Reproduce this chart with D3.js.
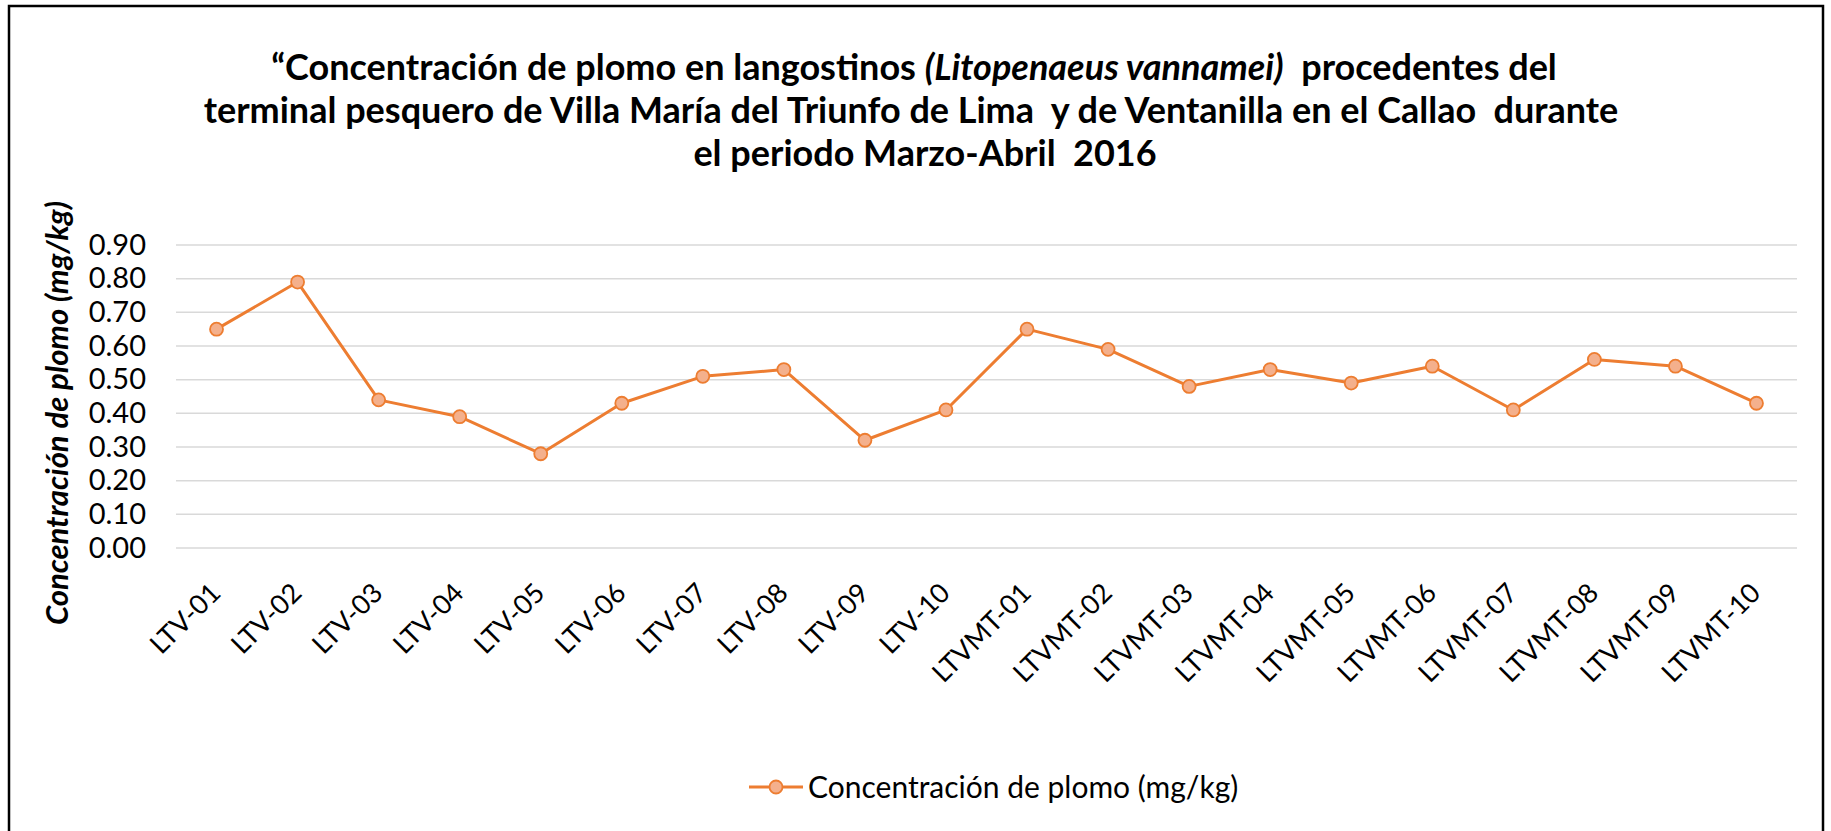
<!DOCTYPE html>
<html>
<head>
<meta charset="utf-8">
<script src="https://cdn.jsdelivr.net/npm/d3@7"></script>
<style>
  body { margin: 0; background: #fff; }
  svg { display: block; font-family: Lato, "Open Sans", sans-serif; }
</style>
</head>
<body>
<svg width="1831" height="831"></svg>
<script>
// data
var categories = ["LTV-01", "LTV-02", "LTV-03", "LTV-04", "LTV-05", "LTV-06", "LTV-07", "LTV-08", "LTV-09", "LTV-10",
    "LTVMT-01", "LTVMT-02", "LTVMT-03", "LTVMT-04", "LTVMT-05", "LTVMT-06", "LTVMT-07", "LTVMT-08", "LTVMT-09", "LTVMT-10"];
var plomo = [0.65, 0.79, 0.44, 0.39, 0.28, 0.43, 0.51, 0.53, 0.32, 0.41,
    0.65, 0.59, 0.48, 0.53, 0.49, 0.54, 0.41, 0.56, 0.54, 0.43];
var yTicks = [0, 0.1, 0.2, 0.3, 0.4, 0.5, 0.6, 0.7, 0.8, 0.9];
var seriesName = "Concentración de plomo (mg/kg)";
var yTitle = "Concentración de plomo (mg/kg)";

var margin = { top: 245, right: 34, bottom: 283, left: 176 };
var width = 1831 - margin.left - margin.right;
var height = 831 - margin.top - margin.bottom;

var svg = d3.select("svg");

// outer frame (bottom edge falls outside the picture)
svg.append("rect")
    .attr("x", 9).attr("y", 6)
    .attr("width", 1814).attr("height", 840)
    .attr("fill", "none")
    .attr("stroke", "#000")
    .attr("stroke-width", 2.5);

// title, 3 lines, species name in italics
var title = svg.append("text")
    .attr("text-anchor", "middle")
    .style("font-size", "36px")
    .style("font-weight", "700")
    .style("white-space", "pre")
    .attr("fill", "#000");
var l1 = title.append("tspan").attr("x", 914).attr("y", 80);
l1.append("tspan").text("“Concentración de plomo en langostinos ");
l1.append("tspan").style("font-style", "italic").text("(Litopenaeus vannamei)");
l1.append("tspan").text("  procedentes del");
title.append("tspan").attr("x", 911).attr("y", 123)
    .text("terminal pesquero de Villa María del Triunfo de Lima  y de Ventanilla en el Callao  durante");
title.append("tspan").attr("x", 925).attr("y", 166)
    .text("el periodo Marzo-Abril  2016");

var g = svg.append("g")
    .attr("transform", "translate(" + margin.left + "," + margin.top + ")");

var x = d3.scaleBand().domain(categories).range([0, width]);
var y = d3.scaleLinear().domain([0, 0.9]).range([height, 0]);

// gridlines
g.append("g")
    .selectAll("line")
    .data(yTicks)
    .enter().append("line")
    .attr("x1", 0).attr("x2", width)
    .attr("y1", function (d) { return y(d); })
    .attr("y2", function (d) { return y(d); })
    .attr("stroke", "#d9d9d9")
    .attr("stroke-width", 1.5);

// y axis labels
var yAxis = g.append("g")
    .call(d3.axisLeft(y).tickValues(yTicks).tickFormat(d3.format(".2f")).tickSize(0).tickPadding(30));
yAxis.select(".domain").remove();
yAxis.selectAll("text")
    .style("font-size", "29px")
    .style("font-family", "Lato, sans-serif")
    .attr("fill", "#000");

// x axis labels, rotated
var xAxis = g.append("g")
    .attr("transform", "translate(0," + height + ")")
    .call(d3.axisBottom(x).tickSize(0).tickPadding(0));
xAxis.select(".domain").remove();
xAxis.selectAll("text")
    .style("font-size", "27px")
    .style("font-family", "Lato, sans-serif")
    .attr("fill", "#000")
    .attr("text-anchor", "end")
    .attr("transform", "translate(-1,40) rotate(-45)")
    .attr("dy", "0.35em");

// y title
svg.append("text")
    .attr("transform", "translate(57,413) rotate(-90)")
    .attr("text-anchor", "middle")
    .attr("dy", "0.35em")
    .style("font-size", "31px")
    .style("font-weight", "700")
    .style("font-style", "italic")
    .text(yTitle);

// line + markers
var line = d3.line()
    .x(function (d, i) { return x(categories[i]) + x.bandwidth() / 2; })
    .y(function (d) { return y(d); });

g.append("path")
    .datum(plomo)
    .attr("fill", "none")
    .attr("stroke", "#ed7d31")
    .attr("stroke-width", 3)
    .attr("stroke-linejoin", "round")
    .attr("d", line);

g.selectAll(".dot")
    .data(plomo)
    .enter().append("circle")
    .attr("class", "dot")
    .attr("cx", function (d, i) { return x(categories[i]) + x.bandwidth() / 2; })
    .attr("cy", function (d) { return y(d); })
    .attr("r", 6.5)
    .attr("fill", "#f4b08c")
    .attr("stroke", "#ed7d31")
    .attr("stroke-width", 1.8);

// legend
var legend = svg.append("g").attr("transform", "translate(749,787)");
legend.append("line")
    .attr("x1", 0).attr("x2", 54)
    .attr("stroke", "#ed7d31").attr("stroke-width", 3);
legend.append("circle")
    .attr("cx", 27).attr("r", 6.5)
    .attr("fill", "#f4b08c").attr("stroke", "#ed7d31").attr("stroke-width", 1.8);
legend.append("text")
    .attr("x", 59)
    .attr("dy", "0.35em")
    .style("font-size", "30px")
    .text(seriesName);
</script>
</body>
</html>
